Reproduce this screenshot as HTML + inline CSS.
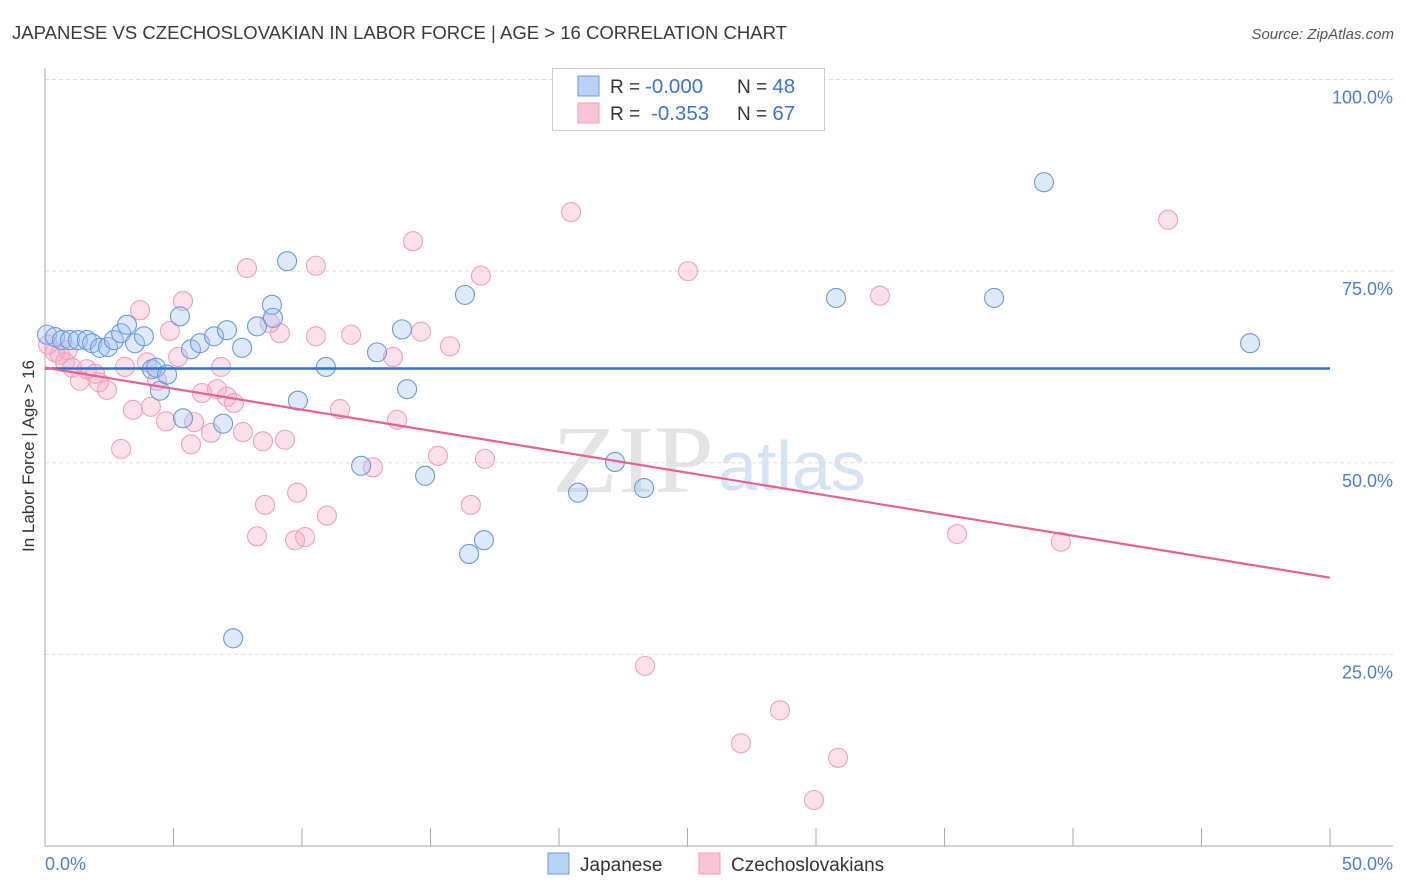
<!DOCTYPE html>
<html><head><meta charset="utf-8"><style>
body{margin:0;background:#fff;font-family:"Liberation Sans",sans-serif;}
svg{display:block}
</style></head><body>
<svg id="chart" width="1406" height="892">
<text x="12" y="39" font-size="18" fill="#3a3a3a" textLength="775" lengthAdjust="spacingAndGlyphs">JAPANESE VS CZECHOSLOVAKIAN IN LABOR FORCE | AGE &gt; 16 CORRELATION CHART</text>
<text x="1394" y="39" font-size="15" fill="#555" text-anchor="end" font-style="italic">Source: ZipAtlas.com</text>
<text x="0" y="0" transform="translate(34,456) rotate(-90)" font-size="17" fill="#333" text-anchor="middle">In Labor Force | Age &gt; 16</text>
<text x="552" y="492" font-size="96" fill="#e4e4e4" font-family="Liberation Serif,serif" textLength="162" lengthAdjust="spacingAndGlyphs">ZIP</text>
<text x="718" y="490" font-size="70" fill="#d6e3f5">atlas</text>
<g id="grid"></g><g id="axes"></g><g id="pts"></g><g id="lines"></g>
<g>
<rect x="552.5" y="68.5" width="272" height="62" fill="#fff" stroke="#ccc"/>
<rect x="578" y="76" width="21" height="20" fill="#b7d2f5" stroke="#6a9ae0"/>
<rect x="578" y="103" width="21" height="20" fill="#f9c5d6" stroke="#f0a0bb"/>
<text x="610" y="93" font-size="19" fill="#333">R =</text>
<text x="645" y="93" font-size="20.5" fill="#3a74d4">-0.000</text>
<text x="737" y="93" font-size="19" fill="#333">N = <tspan fill="#3a74d4" font-size="20.5">48</tspan></text>
<text x="610" y="120" font-size="19" fill="#333">R =</text>
<text x="651" y="120" font-size="20.5" fill="#3a74d4">-0.353</text>
<text x="737" y="120" font-size="19" fill="#333">N = <tspan fill="#3a74d4" font-size="20.5">67</tspan></text>
</g>
<g>
<rect x="548" y="853" width="21" height="21" fill="#b7d2f5" stroke="#6a9ae0"/>
<text x="580" y="871" font-size="19" fill="#333">Japanese</text>
<rect x="699" y="853" width="21" height="21" fill="#f9c5d6" stroke="#f0a0bb"/>
<text x="731" y="871" font-size="19" fill="#333">Czechoslovakians</text>
</g>
</svg>
<script>
const japX=[0.08,0.39,0.66,0.97,1.28,1.63,1.83,2.14,2.45,2.68,2.96,3.19,3.50,3.85,4.16,4.32,4.47,4.75,5.25,5.37,5.68,6.03,6.58,6.93,7.08,7.32,7.67,8.25,8.83,8.87,9.42,9.84,10.93,12.30,12.92,13.89,14.09,14.79,16.34,16.50,17.08,20.74,22.18,23.31,30.78,36.93,38.87,46.89];
const japY=[66.7,66.4,66.0,66.0,66.0,66.0,65.6,65.0,65.1,66.0,66.9,68.0,65.6,66.5,62.2,62.4,59.4,61.5,69.1,55.8,64.8,65.6,66.5,55.1,67.3,27.1,65.0,67.8,70.6,68.9,76.3,58.1,62.5,49.6,64.4,67.4,59.6,48.3,71.9,38.1,39.9,46.1,50.1,46.7,71.5,71.5,86.6,65.6];
const czX=[0.12,0.39,0.58,0.78,0.89,1.05,1.36,1.63,1.95,2.10,2.41,2.96,3.11,3.42,3.70,3.97,4.12,4.36,4.71,4.86,5.18,5.37,5.68,5.80,6.11,6.46,6.69,6.85,7.08,7.35,7.70,7.86,8.25,8.48,8.56,8.75,9.14,9.34,9.73,9.81,10.12,10.54,10.54,10.97,11.48,11.91,12.76,13.54,13.70,14.32,14.63,15.29,15.76,16.57,16.96,17.12,20.47,23.35,25.02,27.08,28.60,29.92,30.86,32.49,35.49,39.53,43.70];
const czY=[65.4,64.4,64.1,63.1,64.7,62.4,60.7,62.2,61.6,60.5,59.5,51.8,62.5,56.9,69.9,63.1,57.3,60.7,55.4,67.2,63.8,71.1,52.4,55.3,59.1,53.9,59.6,62.5,58.6,57.8,54.0,75.4,40.4,52.8,44.5,68.2,66.9,53.0,39.9,46.1,40.3,75.7,66.5,43.1,57.0,66.7,49.4,63.8,55.6,78.9,67.1,50.9,65.2,44.5,74.4,50.5,82.7,23.5,75.0,13.4,17.7,6.0,11.5,71.8,40.7,39.7,81.7];
const yTicks=[25,50,75,100];
const yTickLabels=["25.0%","50.0%","75.0%","100.0%"];
const japTrend=[62.3,62.3];
const czTrend=[62.4,35.0];
const NS="http://www.w3.org/2000/svg";
const sx=v=>45+v/50*1285, sy=v=>846-v/100*766.5;
function mk(tag,p,parent){const e=document.createElementNS(NS,tag);for(const k in p)e.setAttribute(k,p[k]);document.getElementById(parent).appendChild(e);return e;}
yTicks.forEach((t,i)=>{
 const g=mk('line',{x1:45,x2:1393,y1:sy(t),y2:sy(t),stroke:'#ddd','stroke-dasharray':'4,3'},'grid');
 
 
 const l=mk('text',{x:1393,y:sy(t)+24,'text-anchor':'end','font-size':18,fill:'#4a7fd4'},'grid');l.textContent=yTickLabels[i];
 
 
});
const ay=mk('line',{x1:45,x2:45,y1:68,y2:846,stroke:'#aaa'},'axes');


const ax=mk('line',{x1:45,x2:1393,y1:846,y2:846,stroke:'#aaa'},'axes');


for(let i=0;i<=10;i++){const t=mk('line',{x1:sx(i*5),x2:sx(i*5),y1:828,y2:846,stroke:'#aaa'},'axes');
 
 }
[["0.0%",45,'start'],["50.0%",1393,'end']].forEach(a=>{const t=mk('text',{x:a[1],y:870,'font-size':18,fill:'#4a7fd4','text-anchor':a[2]},'axes');t.textContent=a[0];
 
 });
czX.forEach((x,i)=>{const c=mk('circle',{cx:sx(x),cy:sy(czY[i]),r:9.5,fill:'rgba(246,170,196,0.35)',stroke:'#f0a0bb','stroke-width':1.1},'pts');
 
 });
japX.forEach((x,i)=>{const c=mk('circle',{cx:sx(x),cy:sy(japY[i]),r:9.5,fill:'rgba(160,195,240,0.35)',stroke:'#6a9ae0','stroke-width':1.1},'pts');
 
 });
const l1=mk('line',{x1:sx(0),x2:sx(50),y1:sy(japTrend[0]),y2:sy(japTrend[1]),stroke:'#2f6fd6','stroke-width':2.5},'lines');


const l2=mk('line',{x1:sx(0),x2:sx(50),y1:sy(czTrend[0]),y2:sy(czTrend[1]),stroke:'#e8628f','stroke-width':2.2},'lines');


</script>
</body></html>
